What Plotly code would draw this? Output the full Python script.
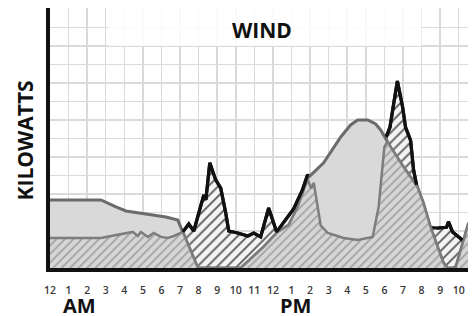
import numpy as np
import plotly.graph_objects as go

# ---------------- data (hours after midnight, kilowatts in grid units) ----------------
hour_ticks = list(range(0, 23))
hour_labels = ["12", "1", "2", "3", "4", "5", "6", "7", "8", "9", "10", "11",
               "12", "1", "2", "3", "4", "5", "6", "7", "8", "9", "10"]

# outer (solid light grey) wind profile
outer_h = [0.0, 2.74, 3.55, 4.09, 6.24, 6.88, 7.96, 10.27, 11.5, 12.26, 12.85, 13.33,
           13.87, 14.73, 15.65, 16.18, 16.56, 17.1, 17.53, 17.8, 18.33, 19.03, 19.78,
           20.1, 20.48, 20.86, 21.18, 21.4, 21.83, 22.53]
outer_kw = [3.68, 3.68, 3.30, 3.08, 2.76, 2.59, 0.0, 0.0, 1.14, 1.95, 2.32, 3.30,
            4.86, 5.68, 7.08, 7.73, 8.0, 8.0, 7.78, 7.46, 6.54, 5.46, 4.38,
            3.51, 2.22, 1.14, 0.27, 0.0, 0.0, 2.43]

# hatched grey wind profile
hatch_h = [0.0, 2.74, 3.28, 4.46, 4.73, 4.89, 5.27, 5.59, 5.97, 6.34, 6.67, 7.15, 7.96,
           10.27, 11.5, 12.26, 12.85, 13.33, 13.87, 14.05, 14.2, 14.57, 14.95, 15.8,
           16.56, 17.37, 17.69, 17.9, 18.0, 18.17, 18.33, 19.03, 19.78, 20.1, 20.48,
           20.86, 21.18, 21.4, 21.83, 22.53]
hatch_kw = [1.62, 1.62, 1.73, 1.95, 1.73, 1.95, 1.68, 1.89, 1.68, 1.62, 1.73, 1.95, 0.0,
            0.0, 1.14, 1.95, 2.32, 3.30, 4.80, 4.30, 4.60, 2.30, 1.89, 1.62,
            1.51, 1.68, 3.30, 5.30, 6.54, 6.85, 6.54, 5.46, 4.38, 3.51, 2.22,
            1.14, 0.27, 0.0, 0.0, 2.43]

# black (actual) wind output
black_h = [0.0, 7.0, 7.15, 7.47, 7.74, 8.28, 8.39, 8.60, 8.92, 9.19, 9.46, 9.62, 10.1,
           10.65, 10.97, 11.34, 11.77, 12.2, 13.12, 13.6, 13.87, 14.09, 15.0, 16.5,
           17.8, 18.1, 18.3, 18.5, 18.7, 18.98, 19.14, 19.41, 19.57, 19.73, 20.05,
           20.32, 20.86, 21.34, 21.45, 21.67, 22.2, 22.4]
black_kw = [1.4, 1.4, 1.95, 2.38, 2.0, 3.95, 3.68, 5.68, 4.76, 4.32, 2.97, 2.0, 1.89,
            1.73, 1.89, 1.68, 3.24, 1.95, 3.20, 4.25, 5.05, 4.6, 4.5, 4.5,
            6.0, 7.1, 7.6, 8.9, 10.1, 8.7, 7.6, 6.9, 5.3, 4.5, 3.3,
            2.2, 2.16, 2.2, 2.49, 1.95, 1.51, 1.6]

# visible part of the black line (where it rises above the grey profile)
outer_at_black = np.interp(black_h, outer_h, outer_kw)
black_vis = [v if v >= o - 0.12 else None for v, o in zip(black_kw, outer_at_black)]

fig = go.Figure()

# black hatched area (bottom layer)
fig.add_trace(go.Scatter(
    x=black_h, y=black_kw, mode="lines", fill="tozeroy",
    line=dict(color="#111111", width=3.2),
    fillcolor="#f4f4f4",
    fillpattern=dict(shape="/", bgcolor="#f4f4f4", fgcolor="#555555",
                     size=7, solidity=0.25, fillmode="replace"),
    hoverinfo="skip", showlegend=False))

# outer solid grey area
fig.add_trace(go.Scatter(
    x=outer_h, y=outer_kw, mode="lines", fill="tozeroy",
    line=dict(color="#6b6b6b", width=3),
    fillcolor="#d9d9d9",
    hoverinfo="skip", showlegend=False))

# hatched grey area
fig.add_trace(go.Scatter(
    x=hatch_h, y=hatch_kw, mode="lines", fill="tozeroy",
    line=dict(color="#7d7d7d", width=2.5),
    fillcolor="#d4d4d4",
    fillpattern=dict(shape="/", bgcolor="#d6d6d6", fgcolor="#a2a2a2",
                     size=6, solidity=0.3, fillmode="replace"),
    hoverinfo="skip", showlegend=False))

# black line redrawn on top where visible
fig.add_trace(go.Scatter(
    x=black_h, y=black_vis, mode="lines", connectgaps=False,
    line=dict(color="#111111", width=3.2),
    hoverinfo="skip", showlegend=False))

grid_col = "#dadada"
fig.update_layout(
    width=473, height=316,
    margin=dict(l=50, r=5, t=8, b=48),
    paper_bgcolor="white", plot_bgcolor="white",
    font=dict(family="Open Sans, DejaVu Sans, sans-serif"),
    hovermode=False,
    xaxis=dict(range=[0, 22.5], tickmode="array", tickvals=hour_ticks,
               ticktext=hour_labels, showgrid=True, gridcolor=grid_col, gridwidth=1.5,
               showline=True, linecolor="#111111", linewidth=4, zeroline=False,
               ticks="", ticklabelstandoff=9,
               tickfont=dict(size=10.5, color="#3a3a3a", family="Open Sans", weight=600)),
    yaxis=dict(range=[0, 14.05], dtick=1, showticklabels=False, showgrid=True,
               gridcolor=grid_col, gridwidth=1.5, showline=True, linecolor="#111111",
               linewidth=4, zeroline=False, ticks=""),
    shapes=[dict(type="rect", xref="x", yref="y", x0=3.15, x1=20.0, y0=12.0, y1=14.05,
                 fillcolor="white", opacity=0.85, line=dict(width=0), layer="between")],
    annotations=[
        dict(text="WIND", xref="x", yref="y", x=11.4, y=12.86, showarrow=False,
             font=dict(size=21, color="#111111", family="Open Sans", weight=700)),
        dict(text="KILOWATTS", xref="paper", yref="paper", x=-0.06, y=0.49,
             xanchor="center", yanchor="middle", textangle=-90, showarrow=False,
             font=dict(size=21, color="#111111", family="Open Sans", weight=700)),
        dict(text="AM", xref="x", yref="paper", x=1.6, y=-0.143, xanchor="center",
             yanchor="middle", showarrow=False,
             font=dict(size=20, color="#111111", family="Open Sans", weight=700)),
        dict(text="PM", xref="x", yref="paper", x=13.2, y=-0.143, xanchor="center",
             yanchor="middle", showarrow=False,
             font=dict(size=20, color="#111111", family="Open Sans", weight=700)),
    ],
)

fig.write_html("out.html", config={"displayModeBar": False, "staticPlot": True},
               post_script="document.body.style.margin='0';document.body.style.overflow='hidden';")
